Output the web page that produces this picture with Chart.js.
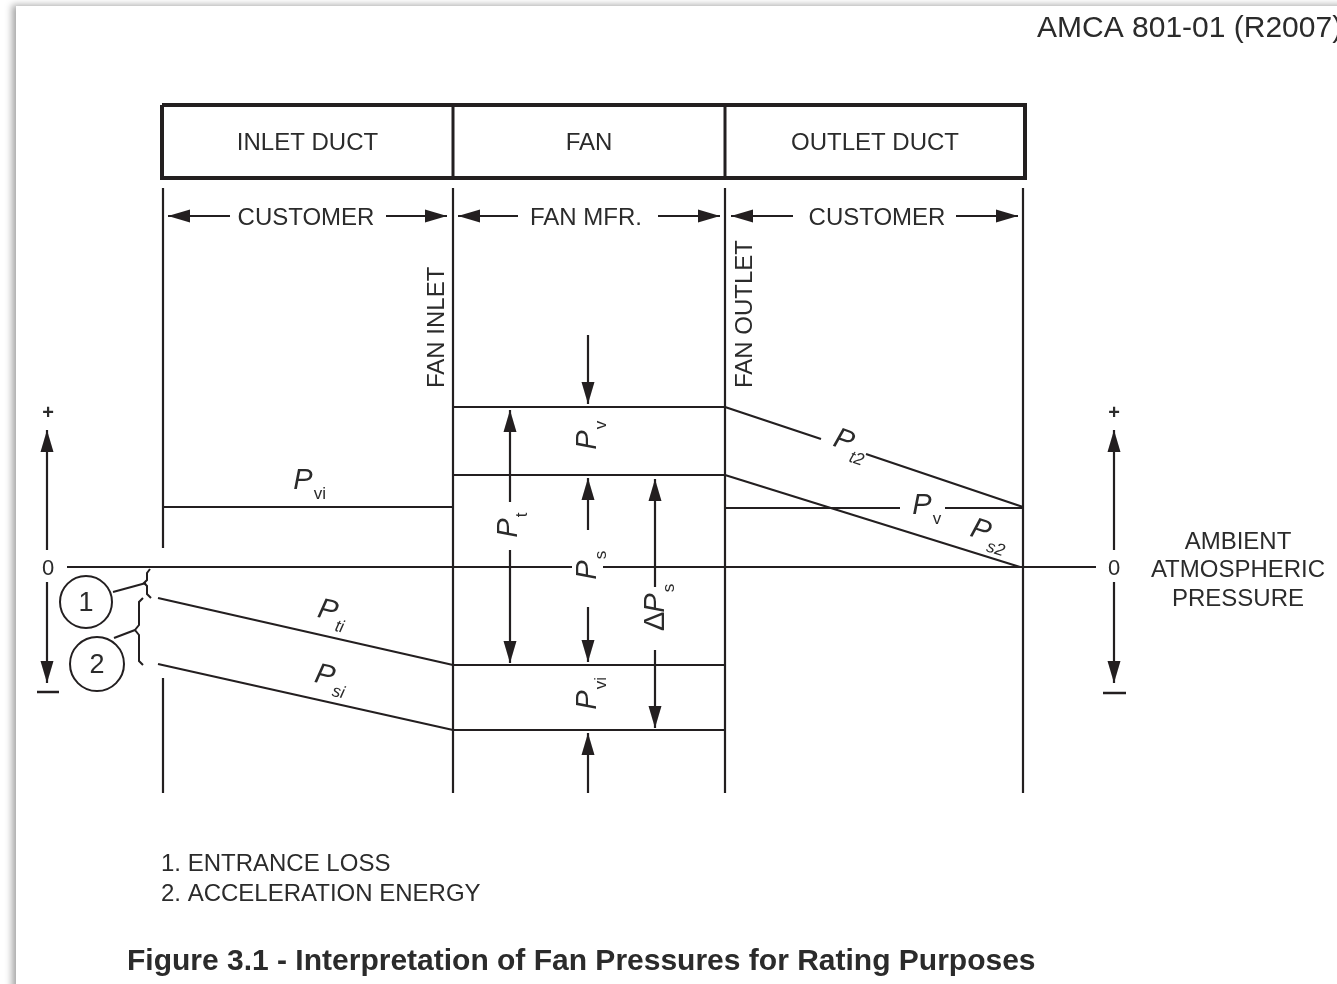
<!DOCTYPE html>
<html lang="en">
<head>
<meta charset="UTF-8">
<title>Figure 3.1 - Interpretation of Fan Pressures for Rating Purposes</title>
<script src="https://cdn.jsdelivr.net/npm/chart.js"></script>
<style>
    body { margin: 0; background: #fff; overflow: hidden; }
    #sheet { position: absolute; left: 16px; top: 6px; width: 1340px; height: 990px; background: #fff;
             box-shadow: -4px -1px 7px rgba(0,0,0,0.35); }
    #fanChart { position: absolute; left: 0; top: 0; }
</style>
</head>
<body>
<div id="sheet"></div>
<canvas id="fanChart" width="1337" height="984"></canvas>

<script>
// ---- texts ----
const docRef = 'AMCA 801-01 (R2007)';
const figTitle = 'Figure 3.1 - Interpretation of Fan Pressures for Rating Purposes';
const sectionNames = ['INLET DUCT', 'FAN', 'OUTLET DUCT'];
const scopeNames = ['CUSTOMER', 'FAN MFR.', 'CUSTOMER'];
const stationNames = ['FAN INLET', 'FAN OUTLET'];
const ambientNote = ['AMBIENT', 'ATMOSPHERIC', 'PRESSURE'];
const footNotes = ['1. ENTRANCE LOSS', '2. ACCELERATION ENERGY'];
const noteMarks = ['1', '2'];

// ---- diagram values: x = position along the duct, y = pressure level (ambient = 0) ----
const stations = [163, 453, 725, 1023];      // duct start, fan inlet, fan outlet, duct end
const stationTop = 379, stationBottom = -226;
const boxTop = 462, boxBottom = 389;

const inletVelocityLine = [[163, 60], [453, 60]];
const inletTotalLine    = [[158, -31], [453, -98]];
const inletStaticLine   = [[158, -97], [453, -163]];
const fanTotalLine      = [[453, 160], [725, 160]];
const fanStaticLine     = [[453, 92], [725, 92]];
const fanInTotalLine    = [[453, -98], [725, -98]];
const fanInStaticLine   = [[453, -163], [725, -163]];
const outletTotalLine   = [[725, 160], [821, 128], null, [866, 113], [1023, 60]];
const outletStaticLine  = [[725, 92], [1020, 0]];
const outletVelLine     = [[725, 59], [900, 59], null, [945, 59], [1023, 59]];
const ambientLine       = [[67, 0], [572, 0], null, [603, 0], [1096, 0]];

// arrows: [fromX, fromY, tipX, tipY]
const scopeArrows = [
    [230, 351, 168, 351], [386, 351, 447, 351],
    [518, 351, 458, 351], [658, 351, 720, 351],
    [793, 351, 731, 351], [956, 351, 1018, 351]
];
const fanArrows = [
    [588, 232, 588, 163],   // Pv
    [510, 65, 510, 157],    // Pt up
    [510, 17, 510, -96],    // Pt down
    [588, 37, 588, 89],     // Ps up
    [588, -40, 588, -95],   // Ps down
    [655, -20, 655, 88],    // dPs up
    [655, -83, 655, -161],  // dPs down
    [588, -226, 588, -166]  // Pvi
];
const axisArrows = [
    [47, 17, 47, 137], [47, -15, 47, -116],
    [1114, 17, 1114, 137], [1114, -15, 1114, -116]
];
const minusBars = [[[37, -125], [59, -125]], [[1103, -126], [1126, -126]]];

const brace1 = [[150, -2], [147, -6], [147, -13], [144, -16], [147, -19], [147, -27], [151, -31]];
const brace2 = [[143, -31], [139, -35], [139, -58], [135, -63], [139, -68], [139, -94], [143, -98]];
const leader1 = [[113, -25], [146, -16]];
const leader2 = [[114, -71], [135, -63]];
const markCircles = [[86, -35, 26], [97, -97, 27]];

// pressure symbols
const pressureLabels = [
    { sub: 'vi', x: 303, y: 87,   rot: 0,    it: false },
    { sub: 'ti', x: 328, y: -43,  rot: 13,   it: true },
    { sub: 'si', x: 325, y: -108, rot: 13,   it: true },
    { sub: 't2', x: 844, y: 127,  rot: 18.5, it: true },
    { sub: 'v',  x: 922, y: 62,   rot: 0,    it: false },
    { sub: 's2', x: 981, y: 37,   rot: 17.3, it: true },
    { sub: 'v',  x: 587, y: 127,  rot: -90,  it: false },
    { sub: 't',  x: 508, y: 39,   rot: -90,  it: false },
    { sub: 's',  x: 587, y: -3,   rot: -90,  it: false },
    { sub: 's',  x: 655, y: -36,  rot: -90,  it: false, pre: '\u0394' },
    { sub: 'vi', x: 587, y: -133, rot: -90,  it: false }
];

const INK = '#231f20';
const TXT = '#2b2b2b';
const FONT = '"Liberation Sans", Arial, sans-serif';

function pts(arr) {
    let out = [];
    arr.forEach((p, i) => {
        if (p) out.push({ x: p[0], y: p[1] });
        else out.push({ x: arr[i - 1][0], y: null });
    });
    return out;
}

let datasets = [];
function addLine(arr, width) {
    datasets.push({
        data: pts(arr), showLine: true, borderColor: INK, borderWidth: width || 2.2,
        pointRadius: 0, fill: false, spanGaps: false, borderCapStyle: 'butt', borderJoinStyle: 'miter'
    });
}

// circles for notes (drawn on top)
datasets.push({
    data: markCircles.map(c => ({ x: c[0], y: c[1] })), showLine: false, order: -1,
    pointRadius: markCircles.map(c => c[2]), pointBackgroundColor: '#fff',
    pointBorderColor: INK, pointBorderWidth: 2
});

// header box
addLine([[162, boxTop], [1025, boxTop], [1025, boxBottom], [162, boxBottom], [162, boxTop]], 4);
addLine([[stations[1], boxTop], [stations[1], boxBottom]], 3);
addLine([[stations[2], boxTop], [stations[2], boxBottom]], 3);

// station verticals
addLine([[stations[0], stationTop], [stations[0], 19], null, [stations[0], -111], [stations[0], stationBottom]]);
stations.slice(1).forEach(s => addLine([[s, stationTop], [s, stationBottom]]));

[inletVelocityLine, inletTotalLine, inletStaticLine, fanTotalLine, fanStaticLine,
 fanInTotalLine, fanInStaticLine, outletTotalLine, outletStaticLine, outletVelLine,
 ambientLine].forEach(l => addLine(l));

const allArrows = scopeArrows.concat(fanArrows, axisArrows);
allArrows.forEach(a => addLine([[a[0], a[1]], [a[2], a[3]]]));
minusBars.forEach(b => addLine(b, 2.5));
[brace1, brace2, leader1, leader2].forEach(l => addLine(l, 2));

const diagramPlugin = {
    id: 'diagram',
    afterDatasetsDraw(chart) {
        const ctx = chart.ctx;
        const X = v => chart.scales.x.getPixelForValue(v);
        const Y = v => chart.scales.y.getPixelForValue(v);

        // arrow heads
        ctx.save();
        ctx.fillStyle = INK;
        allArrows.forEach(a => {
            const x0 = X(a[0]), y0 = Y(a[1]), x1 = X(a[2]), y1 = Y(a[3]);
            const ang = Math.atan2(y1 - y0, x1 - x0);
            const len = 22, hw = 6.5;
            ctx.beginPath();
            ctx.moveTo(x1, y1);
            ctx.lineTo(x1 - len * Math.cos(ang) - hw * Math.sin(ang), y1 - len * Math.sin(ang) + hw * Math.cos(ang));
            ctx.lineTo(x1 - len * Math.cos(ang) + hw * Math.sin(ang), y1 - len * Math.sin(ang) - hw * Math.cos(ang));
            ctx.closePath();
            ctx.fill();
        });
        ctx.restore();

        ctx.save();
        ctx.fillStyle = TXT;
        ctx.textBaseline = 'middle';

        // canvas 'middle' sits a little above cap centre; nudge down
        function text(t, x, y, font, align) {
            ctx.font = font;
            ctx.textAlign = align || 'center';
            ctx.fillText(t, X(x), Y(y) + 2);
        }

        text(docRef, 1037, 540, '30px ' + FONT, 'left');

        const boxMid = (boxTop + boxBottom) / 2;
        const boxEdges = [162, stations[1], stations[2], 1025];
        sectionNames.forEach((n, i) => text(n, (boxEdges[i] + boxEdges[i + 1]) / 2, boxMid, '24px ' + FONT));

        const scopeX = [306, 586, 877];
        scopeNames.forEach((n, i) => text(n, scopeX[i], 351, '24px ' + FONT));

        const stationLabelX = [437, 745];
        stationNames.forEach((n, i) => {
            ctx.save();
            ctx.translate(X(stationLabelX[i]), Y(179));
            ctx.rotate(-Math.PI / 2);
            ctx.font = '24px ' + FONT;
            ctx.textAlign = 'left';
            ctx.fillText(n, 0, 0);
            ctx.restore();
        });

        // axis marks
        text('0', 48, 0, '22px ' + FONT);
        text('0', 1114, 0, '22px ' + FONT);
        text('+', 48, 156, 'bold 20px ' + FONT);
        text('+', 1114, 156, 'bold 20px ' + FONT);

        ambientNote.forEach((n, i) => text(n, 1238, 27 - i * 28.5, '24px ' + FONT));

        noteMarks.forEach((n, i) => text(n, markCircles[i][0], markCircles[i][1], '27px ' + FONT));

        footNotes.forEach((n, i) => text(n, 161, -295 - i * 30, '24px ' + FONT, 'left'));
        text(figTitle, 127, -393, 'bold 30px ' + FONT, 'left');

        // pressure symbols
        pressureLabels.forEach(l => {
            ctx.save();
            ctx.translate(X(l.x), Y(l.y));
            ctx.rotate(l.rot * Math.PI / 180);
            ctx.font = 'italic 29px ' + FONT;
            ctx.textAlign = 'center';
            ctx.fillText('P', 0, 1);
            const half = ctx.measureText('P').width / 2;
            if (l.pre) {
                ctx.font = '29px ' + FONT;
                ctx.textAlign = 'right';
                ctx.fillText(l.pre, -half + 1, 1);
            }
            ctx.font = (l.it ? 'italic ' : '') + '17px ' + FONT;
            ctx.textAlign = 'left';
            ctx.fillText(l.sub, half + 1, 14);
            ctx.restore();
        });
        ctx.restore();
    }
};

new Chart(document.getElementById('fanChart'), {
    type: 'scatter',
    data: { datasets: datasets },
    options: {
        responsive: false,
        animation: false,
        events: [],
        layout: { padding: 0, autoPadding: false },
        plugins: { legend: { display: false }, tooltip: { enabled: false } },
        scales: {
            x: { type: 'linear', min: 0, max: 1337, display: false },
            y: { type: 'linear', min: -417, max: 567, display: false }
        }
    },
    plugins: [diagramPlugin]
});
</script>
</body>
</html>
